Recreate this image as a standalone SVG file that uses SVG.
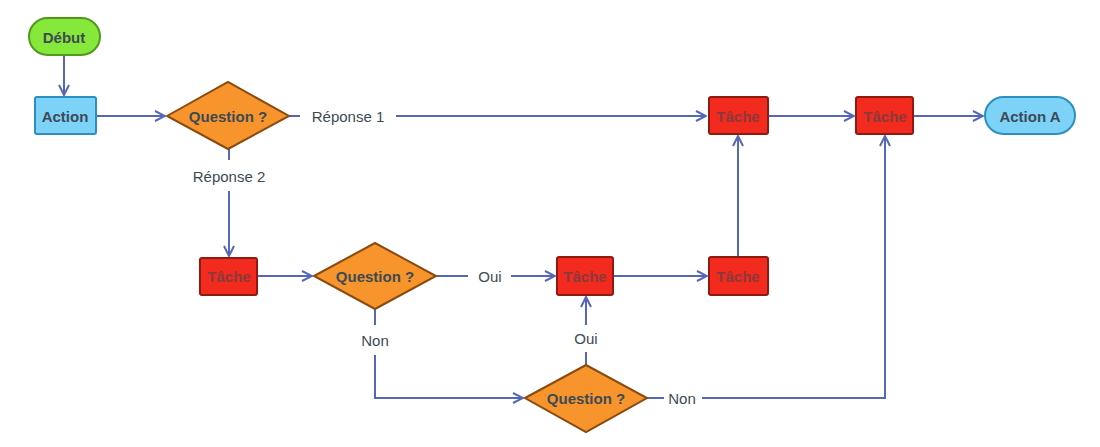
<svg xmlns="http://www.w3.org/2000/svg" width="1100" height="447" viewBox="0 0 1100 447">
<style>
text{font-family:"Liberation Sans",Arial,sans-serif;font-size:15px;text-anchor:middle;dominant-baseline:central}
.n{font-weight:bold;fill:#3d4a55}
.t{font-weight:bold;fill:#8a3a3a}
.lbl{fill:#3d4a55;font-size:15px}
.task{fill:#f32a1e;stroke:#8f1a12;stroke-width:2}
.dia{fill:#f7952c;stroke:#8a4a10;stroke-width:2}
.c path{fill:none;stroke:#5667b7;stroke-width:2}
</style>
<defs>
<marker id="a" viewBox="0 0 12 12" refX="11" refY="6" markerWidth="12" markerHeight="12" markerUnits="userSpaceOnUse" orient="auto">
<path d="M1,1 L11,6 L1,11" fill="none" stroke="#5667b7" stroke-width="2"/>
</marker>
</defs>
<rect width="1100" height="447" fill="#fff"/>
<g class="c">
<path d="M64,55 V95" marker-end="url(#a)"/>
<path d="M96,116 H165" marker-end="url(#a)"/>
<path d="M289,116 H300 M396,116 H706" marker-end="url(#a)"/>
<path d="M768,116 H854" marker-end="url(#a)"/>
<path d="M913,116 H983" marker-end="url(#a)"/>
<path d="M229,149 V160 M229,191 V256" marker-end="url(#a)"/>
<path d="M257,276 H312" marker-end="url(#a)"/>
<path d="M436,276 H468 M511,276 H555" marker-end="url(#a)"/>
<path d="M613,276 H707" marker-end="url(#a)"/>
<path d="M738,257 V136" marker-end="url(#a)"/>
<path d="M375,309 V325 M375,355 V398 H523" marker-end="url(#a)"/>
<path d="M586,365 V352 M586,325 V297" marker-end="url(#a)"/>
<path d="M647,398 H664 M702,398 H885 V136" marker-end="url(#a)"/>
</g>
<g class="lbls">
<text class="lbl" x="348" y="116">Réponse 1</text>
<text class="lbl" x="229" y="176">Réponse 2</text>
<text class="lbl" x="490" y="276">Oui</text>
<text class="lbl" x="375" y="340">Non</text>
<text class="lbl" x="586" y="338">Oui</text>
<text class="lbl" x="682" y="398">Non</text>
</g>
<g id="debut"><rect x="29" y="18" width="71" height="37" rx="18.5" fill="#86e83a" stroke="#4f9a1a" stroke-width="2"/><text class="n" x="64" y="37">Début</text></g>
<g id="action"><rect x="35" y="97" width="61" height="37" rx="2" fill="#7dd3f7" stroke="#2b8fc0" stroke-width="2"/><text class="n" x="65" y="116">Action</text></g>
<g id="q1"><polygon class="dia" points="167,116 228,82 289,116 228,149"/><text class="n" x="228" y="116">Question ?</text></g>
<g id="t1"><rect class="task" x="709" y="97" width="59" height="37" rx="2"/><text class="t" x="738" y="116">Tâche</text></g>
<g id="t2"><rect class="task" x="856" y="97" width="57" height="37" rx="2"/><text class="t" x="885" y="116">Tâche</text></g>
<g id="actionA"><rect x="985" y="97" width="90" height="37" rx="18.5" fill="#7dd3f7" stroke="#2b8fc0" stroke-width="2"/><text class="n" x="1030" y="116">Action A</text></g>
<g id="t3"><rect class="task" x="200" y="258" width="57" height="37" rx="2"/><text class="t" x="229" y="276">Tâche</text></g>
<g id="q2"><polygon class="dia" points="314,276 375,243 436,276 375,309"/><text class="n" x="375" y="276">Question ?</text></g>
<g id="t4"><rect class="task" x="557" y="257" width="56" height="38" rx="2"/><text class="t" x="585" y="276">Tâche</text></g>
<g id="t5"><rect class="task" x="709" y="257" width="59" height="38" rx="2"/><text class="t" x="738" y="276">Tâche</text></g>
<g id="q3"><polygon class="dia" points="525,398 586,365 647,398 586,432"/><text class="n" x="586" y="398">Question ?</text></g>
</svg>
